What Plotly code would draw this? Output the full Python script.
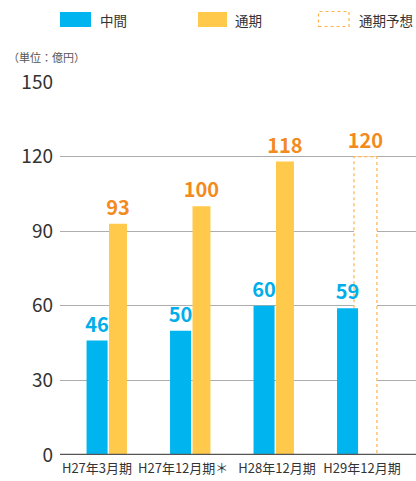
import plotly.graph_objects as go

categories = ["H27年3月期", "H27年12月期＊", "H28年12月期", "H29年12月期"]
interim = [46, 50, 60, 59]
full_year = [93, 100, 118, None]
forecast = [None, None, None, 120]
y_ticks = [0, 30, 60, 90, 120, 150]
legend_labels = ["中間", "通期", "通期予想"]
unit_label = "（単位：億円）"

BLUE = "#00b5ef"
BLUE_TXT = "#00aeea"
YELLOW = "#ffc94b"
ORANGE_TXT = "#f38a20"
DASH = "#ffb34a"
FONT = "Noto Sans CJK JP"

W, H = 416, 481
L, R, T, B = 60, 0, 82, 26
PW, PH = W - L - R, H - T - B

def px_x(px):
    return (px - L) / PW

def px_y(py):
    return (H - B - py) / PH

xs = list(range(len(categories)))

fig = go.Figure()

# forecast bar (white fill hides gridlines), drawn first
fig.add_trace(go.Bar(
    x=xs, y=forecast, width=0.275, offset=-0.054,
    marker=dict(color="white", line=dict(width=0)),
    text=[("" if v is None else str(v)) for v in forecast], textposition="outside",
    textfont=dict(color=ORANGE_TXT, size=20, family=FONT, weight="bold"),
    constraintext="none", cliponaxis=False, showlegend=False,
))
fig.add_trace(go.Bar(
    x=xs, y=interim, width=0.252, offset=-0.257,
    marker=dict(color=BLUE, line=dict(width=0)),
    text=[str(v) for v in interim], textposition="outside",
    textfont=dict(color=BLUE_TXT, size=20, family=FONT, weight="bold"),
    constraintext="none", cliponaxis=False, showlegend=False,
))
fig.add_trace(go.Bar(
    x=xs, y=full_year, width=0.215, offset=0.012,
    marker=dict(color=YELLOW, line=dict(width=0)),
    text=[("" if v is None else str(v)) for v in full_year], textposition="outside",
    textfont=dict(color=ORANGE_TXT, size=20, family=FONT, weight="bold"),
    constraintext="none", cliponaxis=False, showlegend=False,
))

# dotted outline of forecast bar
for i, v in enumerate(forecast):
    if v is None:
        continue
    x0, x1 = i - 0.054, i - 0.054 + 0.275
    base = interim[i]
    fig.add_trace(go.Scatter(
        x=[x0, x0, x1, x1], y=[base, v, v, 0], mode="lines",
        line=dict(color=DASH, width=1.2, dash="dot"),
        hoverinfo="skip", showlegend=False, cliponaxis=False,
    ))

tick_shift = [-0.132, -0.10, 0.024, 0.042]
fig.update_xaxes(
    range=[-0.575, 3.689], tickvals=[i + d for i, d in zip(xs, tick_shift)],
    ticktext=categories, showgrid=False, zeroline=False, showline=False,
    tickfont=dict(size=13, color="#333", family=FONT), ticks="",
    ticklabelstandoff=4,
)
fig.update_yaxes(
    range=[0, 150], tickvals=y_ticks, showgrid=True, gridcolor="#adadad",
    gridwidth=1, zeroline=False, showline=False,
    tickfont=dict(size=19, color="#333", family=FONT), ticks="",
    ticklabelstandoff=6,
)

shapes = [
    dict(type="line", xref="paper", yref="y", x0=0, x1=1, y0=0, y1=0,
         line=dict(color="#555", width=2.5), layer="above"),
    dict(type="rect", xref="paper", yref="paper", x0=px_x(60), x1=px_x(91),
         y0=px_y(27), y1=px_y(12), fillcolor=BLUE, line=dict(width=0)),
    dict(type="rect", xref="paper", yref="paper", x0=px_x(198), x1=px_x(227),
         y0=px_y(27), y1=px_y(12), fillcolor=YELLOW, line=dict(width=0)),
    dict(type="rect", xref="paper", yref="paper", x0=px_x(318.5), x1=px_x(349),
         y0=px_y(26.5), y1=px_y(11.5), fillcolor="white",
         line=dict(color=DASH, width=1.2, dash="dot")),
]

annotations = []
for lab, lx in zip(legend_labels, [98, 233, 357]):
    annotations.append(dict(
        text=lab, x=px_x(lx), y=px_y(19.5), xref="paper", yref="paper",
        xanchor="left", yanchor="middle", showarrow=False,
        font=dict(size=13.5, color="#333", family=FONT),
    ))
annotations.append(dict(
    text=unit_label, x=px_x(6), y=px_y(57), xref="paper", yref="paper",
    xanchor="left", yanchor="middle", showarrow=False,
    font=dict(size=11, color="#555", family=FONT),
))

fig.update_layout(
    width=W, height=H, margin=dict(l=L, r=R, t=T, b=B, autoexpand=False),
    plot_bgcolor="white", paper_bgcolor="white", barmode="overlay",
    shapes=shapes, annotations=annotations, showlegend=False,
    font=dict(family=FONT),
)

fig.write_html("out.html")
